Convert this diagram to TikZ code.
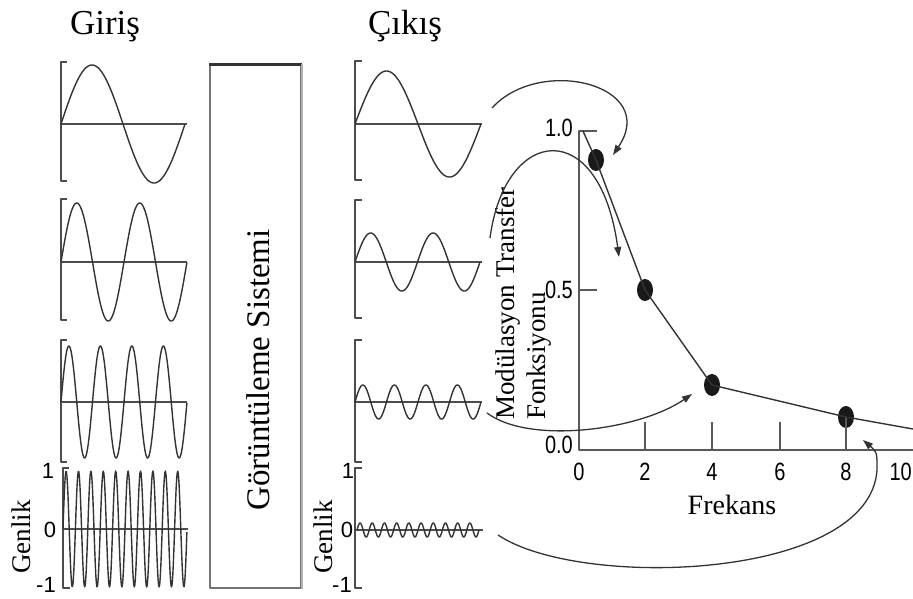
\documentclass[tikz,border=0pt]{standalone}
\usepackage{fontspec}
\setmainfont{Liberation Serif}
\newfontfamily\numfont{Liberation Sans}
\newfontfamily\numfontc[FakeStretch=0.8]{Liberation Sans}
\usetikzlibrary{arrows.meta,shapes.geometric}
\newcommand\wv[5]{\draw[wave] plot[domain=0:1,samples=220] ({#1+#2*\x},{#3-#4*sin(360*#5*\x)});}
\begin{document}
\begin{tikzpicture}[x=1pt,y=-1pt,line join=round,
  wave/.style={line width=1.4pt,draw=black!80},
  axisline/.style={line width=1.5pt,draw=black!70},
  mtfaxis/.style={line width=1.1pt,draw=black!65},
  ttl/.style={font=\fontsize{35}{40}\selectfont,inner sep=0pt},
  vlabel/.style={font=\fontsize{27}{31}\selectfont,rotate=90,inner sep=0pt},
  num/.style={font=\numfont\fontsize{22}{24}\selectfont,inner sep=0pt},
  mtfnum/.style={font=\numfontc\fontsize{25}{28}\selectfont,inner sep=0pt},
  dotnode/.style={ellipse,fill=black!90,minimum width=16pt,minimum height=22pt,inner sep=0pt},
  conn/.style={line width=1.3pt,draw=black!80,-{Triangle[length=10pt,width=7pt]}}]
\useasboundingbox (0,0) rectangle (913,598);
% titles
\node[ttl,anchor=base] (tin) at (105,34) {Giriş};
\node[ttl,anchor=base] (tout) at (405,34) {Çıkış};
% ---------- input panels
\draw[axisline] (67,62) -- (61,62) -- (61,181) -- (67,181);
\draw[axisline] (61,124) -- (187,124);
\wv{61}{124}{124}{59}{1}
\draw[axisline] (67,199) -- (61,199) -- (61,320) -- (67,320);
\draw[axisline] (61,262) -- (187,262);
\wv{61}{126}{262}{59}{2}
\draw[axisline] (67,340) -- (61,340) -- (61,462) -- (67,462);
\draw[axisline] (61,402) -- (187,402);
\wv{61}{126}{402}{56}{4}
\draw[axisline] (69,468) -- (63,468) -- (63,588) -- (70,588);
\draw[axisline] (63,529) -- (188,529);
\wv{63}{124}{529}{58}{10}
\node[num] (il1) at (48,471) {1};
\node[num] (il0) at (50,530) {0};
\node[num] (ilm) at (46,585) {-1};
\node[vlabel] (ig) at (21,537) {Genlik};
% ---------- system box
\node[draw=black!55,line width=1.8pt,minimum width=91pt,minimum height=523pt,inner sep=0pt] (sys) at (255.5,326.5) {};
\draw[line width=3pt,black!80] (sys.north west) -- (sys.north east);
\draw[line width=1.8pt,black!30] (sys.north east) -- (sys.south east);
\node[rotate=90,font=\fontsize{33}{36}\selectfont,inner sep=0pt] (syst) at (258,370) {Görüntüleme Sistemi};
% ---------- output panels
\draw[axisline] (362,61) -- (355,61) -- (355,180) -- (362,180);
\draw[axisline] (355,124) -- (482,124);
\wv{355}{126}{124}{53}{1}
\draw[axisline] (362,200) -- (355,200) -- (355,318) -- (362,318);
\draw[axisline] (355,262) -- (482,262);
\wv{355}{125}{262}{29}{2}
\draw[axisline] (362,340) -- (355,340) -- (355,462) -- (362,462);
\draw[axisline] (355,402) -- (482,402);
\wv{355}{126}{402}{17}{4}
\draw[axisline] (362,468) -- (355,468) -- (355,588) -- (362,588);
\draw[axisline] (355,530) -- (483,530);
\wv{357}{122}{530}{7}{10}
\node[num] (ol1) at (348,471) {1};
\node[num] (ol0) at (347,530) {0};
\node[num] (olm) at (342,585) {-1};
\node[vlabel] (og) at (323,537) {Genlik};
% ---------- MTF plot
\draw[mtfaxis] (597,131) -- (579,131) -- (579,450) -- (913,450);
\draw[mtfaxis] (579,290) -- (597,290);
\foreach \t/\px in {2/645,4/712,6/780} {\draw[mtfaxis] (\px,450) -- (\px,422);}
\node[mtfnum,anchor=east] (y10) at (573,128) {1.0};
\node[mtfnum,anchor=east] (y05) at (573,290) {0.5};
\node[mtfnum,anchor=east] (y00) at (573,445) {0.0};
\foreach \t/\px in {0/579,2/645,4/712,6/780,8/846} {\node[mtfnum] (x\t) at (\px,472) {\t};}
\node[mtfnum,anchor=east] (x10) at (912,472) {10};
\node[vlabel,align=left] (mtfl) at (523,303.5) {Modülasyon Transfer\\Fonksiyonu};
\node[font=\fontsize{28}{30}\selectfont,inner sep=0pt] (frek) at (732,505) {Frekans};
\node[dotnode] (d1) at (596,160) {};
\node[dotnode] (d2) at (645,290) {};
\node[dotnode] (d3) at (712,385) {};
\node[dotnode] (d4) at (846,417) {};
\draw[mtfaxis] (846,450) -- (d4.center);
\coordinate (c0) at (583,131);
\coordinate (cend) at (913,429);
\draw[line width=1.4pt,black!80] (c0) -- (d1.center) -- (d2.center) -- (d3.center) -- (d4.center) -- (cend);
% ---------- arrows
\coordinate (a1s) at (492,108);
\coordinate (a1e) at (613,155);
\coordinate (a2s) at (490,238);
\coordinate (a2e) at (619,257);
\coordinate (a3s) at (487,413);
\coordinate (a3e) at (692,394);
\coordinate (a4s) at (498,535);
\coordinate (a4m) at (877,470);
\coordinate (a4e) at (863,440);
\draw[conn] (a1s) .. controls (540,55) and (660,85) .. (a1e);
\draw[conn] (a2s) .. controls (505,125) and (600,115) .. (a2e);
\draw[conn] (a3s) .. controls (530,445) and (640,430) .. (a3e);
\draw[conn] (a4s) .. controls (580,590) and (870,580) .. (a4m) .. controls (877,452) .. (a4e);
\end{tikzpicture}
\end{document}
